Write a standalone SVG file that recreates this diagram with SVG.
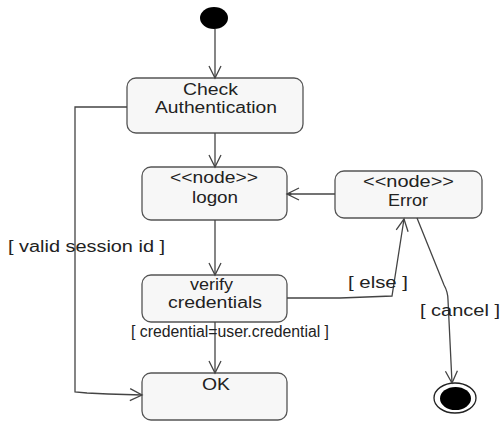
<svg xmlns="http://www.w3.org/2000/svg" width="502" height="421" viewBox="0 0 502 421">
  <style>
    .state { fill: #f7f7f7; stroke: #555; stroke-width: 1.3; }
    .lbl { font-family: "Liberation Sans", Arial, sans-serif; font-size: 16px; fill: #222; }
    .edge { fill: none; stroke: #444; stroke-width: 1.3; marker-end: url(#open); }
  </style>
  <defs>
    <marker id="open" viewBox="-14 -8 16 16" markerWidth="16" markerHeight="16" refX="0" refY="0" orient="auto" markerUnits="userSpaceOnUse">
      <path d="M-12,-6 L0,0 L-12,6" fill="none" stroke="#444" stroke-width="1.3"/>
    </marker>
  </defs>
  <rect width="502" height="421" fill="#ffffff"/>

  <!-- initial and final pseudo-states -->
  <g id="start">
    <ellipse cx="214" cy="18" rx="14" ry="11" fill="#000"/>
  </g>
  <g id="end">
    <ellipse cx="455" cy="398" rx="21" ry="15" fill="#fff" stroke="#222" stroke-width="1.3"/>
    <ellipse cx="455.5" cy="398.5" rx="15.5" ry="11.5" fill="#000"/>
  </g>

  <!-- activity states -->
  <g id="check-auth">
    <rect class="state" x="127" y="78" width="176" height="55" rx="9"/>
    <text class="lbl" x="183" y="95" textLength="55" lengthAdjust="spacingAndGlyphs">Check</text>
    <text class="lbl" x="155" y="113" textLength="122" lengthAdjust="spacingAndGlyphs">Authentication</text>
  </g>
  <g id="logon">
    <rect class="state" x="142" y="167" width="145" height="53" rx="9"/>
    <text class="lbl" x="170" y="183" textLength="88" lengthAdjust="spacingAndGlyphs">&lt;&lt;node&gt;&gt;</text>
    <text class="lbl" x="192" y="203" textLength="46" lengthAdjust="spacingAndGlyphs">logon</text>
  </g>
  <g id="verify">
    <rect class="state" x="142" y="275" width="145" height="47" rx="9"/>
    <text class="lbl" x="190" y="290" textLength="43" lengthAdjust="spacingAndGlyphs">verify</text>
    <text class="lbl" x="168" y="308" textLength="94" lengthAdjust="spacingAndGlyphs">credentials</text>
  </g>
  <g id="ok">
    <rect class="state" x="142" y="373" width="145" height="47" rx="9"/>
    <text class="lbl" x="202" y="390" textLength="28" lengthAdjust="spacingAndGlyphs">OK</text>
  </g>
  <g id="error">
    <rect class="state" x="335" y="171" width="147" height="47" rx="9"/>
    <text class="lbl" x="363" y="187" textLength="91" lengthAdjust="spacingAndGlyphs">&lt;&lt;node&gt;&gt;</text>
    <text class="lbl" x="388" y="206" textLength="40" lengthAdjust="spacingAndGlyphs">Error</text>
  </g>

  <!-- transitions -->
  <g id="connectors">
    <path class="edge" d="M215,29 L215,78"/>
    <path class="edge" d="M215,133 L215,167"/>
    <path class="edge" d="M215,220 L215,275"/>
    <path class="edge" d="M215,322 L215,373"/>
    <path class="edge" d="M335,194 L287,194"/>
    <circle cx="290" cy="194" r="1.5" fill="#444"/>
    <path class="edge" d="M287,298 L340,298 L392,296 L404,219"/>
    <path class="edge" d="M417,218 L444,285 Q448,292 448,300 L452,383"/>
    <path class="edge" d="M127,107 L75,107 L75,392 L87,393 L108,394 L142,395"/>
  </g>

  <!-- guard labels -->
  <g id="guards">
    <text class="lbl" x="8" y="252" textLength="157" lengthAdjust="spacingAndGlyphs">[ valid session id ]</text>
    <text class="lbl" x="348" y="288" textLength="60" lengthAdjust="spacingAndGlyphs">[ else ]</text>
    <text class="lbl" x="420" y="316" textLength="80" lengthAdjust="spacingAndGlyphs">[ cancel ]</text>
    <text class="lbl" x="131" y="337" textLength="198" lengthAdjust="spacingAndGlyphs">[ credential=user.credential ]</text>
  </g>
</svg>
